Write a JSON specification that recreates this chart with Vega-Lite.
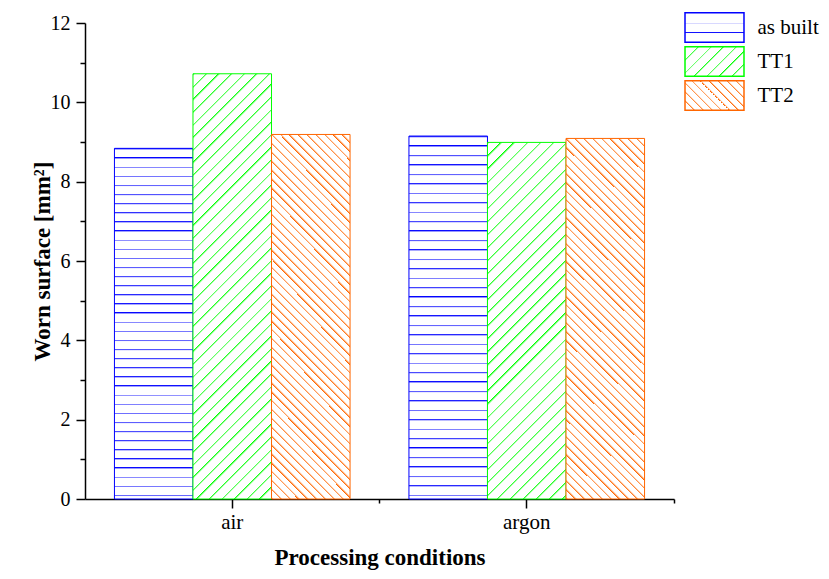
{
"$schema": "https://vega.github.io/schema/vega-lite/v6.json",
"width": 589, "height": 476,
"autosize": {"type": "none"},
"padding": {"left": 85, "top": 23, "right": 155, "bottom": 80},
"background": "white",
"config": {
  "view": {"stroke": null},
  "font": "Liberation Serif",
  "axis": {"labelFont": "Liberation Serif", "titleFont": "Liberation Serif", "labelColor": "#000", "titleColor": "#000", "tickColor": "#000", "domainColor": "#000", "tickWidth": 1.5, "domainWidth": 1.5, "labelFontSize": 20, "titleFontSize": 23, "titleFontWeight": "bold", "grid": false},
  "legend": {"labelFont": "Liberation Serif", "labelFontSize": 21, "labelColor": "#000", "orient": "none", "legendX": 614, "legendY": -11, "padding": 0, "labelOffset": 27.5, "rowPadding": -4, "symbolType": "M-2,-1H2V1H-2Z", "symbolSize": 870, "symbolStrokeWidth": 1.5, "symbolOpacity": 1}
},
"data": {"values": [
  {"condition": "air", "treatment": "as built", "value": 8.84},
  {"condition": "air", "treatment": "TT1", "value": 10.72},
  {"condition": "air", "treatment": "TT2", "value": 9.19},
  {"condition": "argon", "treatment": "as built", "value": 9.15},
  {"condition": "argon", "treatment": "TT1", "value": 8.99},
  {"condition": "argon", "treatment": "TT2", "value": 9.09}
]},
"encoding": {
  "x": {"field": "condition", "type": "nominal", "scale": {"domain": ["air", "argon"], "paddingInner": 0.2, "paddingOuter": 0.1}, "axis": null},
  "xOffset": {"field": "treatment", "type": "nominal", "scale": {"domain": ["as built", "TT1", "TT2"], "paddingInner": 0, "paddingOuter": 0}},
  "y": {"field": "value", "type": "quantitative", "scale": {"domain": [0, 12], "nice": false, "zero": true},
    "axis": {"values": [0,1,2,3,4,5,6,7,8,9,10,11,12], "labelExpr": "datum.value % 2 === 0 ? datum.label : ''", "tickSize": {"condition": {"test": "datum.value % 2 !== 0", "value": 5}, "value": 9}, "labelPadding": 6, "title": "Worn surface [mm²]", "titlePadding": -4}},
  "stroke": {"field": "treatment", "type": "nominal", "scale": {"domain": ["as built", "TT1", "TT2"], "range": ["#0000ff", "#00ff00", "#ff6600"]}, "legend": null}
},
"resolve": {"axis": {"x": "independent"}},
"layer": [
  {
    "transform": [{"filter": "false"}],
    "mark": {"type": "bar", "strokeWidth": 1.5},
    "encoding": {
      "fill": {"field": "treatment", "type": "nominal", "legend": {"title": null},
        "scale": {"domain": ["as built", "TT1", "TT2"], "range": [
          {"expr": "{id:'lBlue',gradient:'linear',x1:0,y1:0,x2:0,y2:1,stops:[{offset:0,color:'#fff'},{offset:0.333,color:'#fff'},{offset:0.333,color:'#00f'},{offset:0.37,color:'#fff'},{offset:0.667,color:'#fff'},{offset:0.667,color:'#00f'},{offset:0.704,color:'#fff'},{offset:1,color:'#fff'}]}"},
          {"expr": "{id:'lGreen',gradient:'linear',x1:0,y1:0,x2:1.2,y2:0.6,stops:[{offset:0,color:'#0f0'},{offset:0.024,color:'#fff'},{offset:0.143,color:'#fff'},{offset:0.143,color:'#0f0'},{offset:0.167,color:'#fff'},{offset:0.286,color:'#fff'},{offset:0.286,color:'#0f0'},{offset:0.31,color:'#fff'},{offset:0.429,color:'#fff'},{offset:0.429,color:'#0f0'},{offset:0.453,color:'#fff'},{offset:0.571,color:'#fff'},{offset:0.571,color:'#0f0'},{offset:0.595,color:'#fff'},{offset:0.714,color:'#fff'},{offset:0.714,color:'#0f0'},{offset:0.738,color:'#fff'},{offset:0.857,color:'#fff'},{offset:0.857,color:'#0f0'},{offset:0.881,color:'#fff'},{offset:1,color:'#fff'}]}"},
          {"expr": "{id:'lOrange',gradient:'linear',x1:0,y1:1,x2:1.2,y2:0.4,stops:[{offset:0,color:'#fff'},{offset:0.1,color:'#fff'},{offset:0.1,color:'#f60'},{offset:0.124,color:'#fff'},{offset:0.2,color:'#fff'},{offset:0.2,color:'#f60'},{offset:0.224,color:'#fff'},{offset:0.3,color:'#fff'},{offset:0.3,color:'#f60'},{offset:0.324,color:'#fff'},{offset:0.4,color:'#fff'},{offset:0.4,color:'#f60'},{offset:0.424,color:'#fff'},{offset:0.5,color:'#fff'},{offset:0.5,color:'#f60'},{offset:0.524,color:'#fff'},{offset:0.6,color:'#fff'},{offset:0.6,color:'#f60'},{offset:0.624,color:'#fff'},{offset:0.7,color:'#fff'},{offset:0.7,color:'#f60'},{offset:0.724,color:'#fff'},{offset:0.8,color:'#fff'},{offset:0.8,color:'#f60'},{offset:0.824,color:'#fff'},{offset:0.9,color:'#fff'},{offset:0.9,color:'#f60'},{offset:0.924,color:'#fff'},{offset:1,color:'#fff'}]}"}
        ]}},
      "stroke": {"field": "treatment", "type": "nominal", "scale": {"domain": ["as built", "TT1", "TT2"], "range": ["#0000ff", "#00ff00", "#ff6600"]}, "legend": {"title": null}}
    }
  },
  {
    "transform": [{"filter": "datum.treatment === 'as built'"}],
    "mark": {"type": "bar", "strokeWidth": 1, "fill": {"id": "hBlue", "gradient": "linear", "x1": 0, "y1": 0, "x2": 0, "y2": 1, "stops": [
{"offset":0,"color":"#00f"},{"offset":0.005,"color":"#fff"},{"offset":0.026,"color":"#fff"},
{"offset":0.026,"color":"#00f"},{"offset":0.031,"color":"#fff"},{"offset":0.052,"color":"#fff"},
{"offset":0.052,"color":"#00f"},{"offset":0.057,"color":"#fff"},{"offset":0.078,"color":"#fff"},
{"offset":0.078,"color":"#00f"},{"offset":0.083,"color":"#fff"},{"offset":0.104,"color":"#fff"},
{"offset":0.104,"color":"#00f"},{"offset":0.109,"color":"#fff"},{"offset":0.13,"color":"#fff"},
{"offset":0.13,"color":"#00f"},{"offset":0.135,"color":"#fff"},{"offset":0.156,"color":"#fff"},
{"offset":0.156,"color":"#00f"},{"offset":0.161,"color":"#fff"},{"offset":0.182,"color":"#fff"},
{"offset":0.182,"color":"#00f"},{"offset":0.187,"color":"#fff"},{"offset":0.208,"color":"#fff"},
{"offset":0.208,"color":"#00f"},{"offset":0.213,"color":"#fff"},{"offset":0.234,"color":"#fff"},
{"offset":0.234,"color":"#00f"},{"offset":0.239,"color":"#fff"},{"offset":0.26,"color":"#fff"},
{"offset":0.26,"color":"#00f"},{"offset":0.265,"color":"#fff"},{"offset":0.286,"color":"#fff"},
{"offset":0.286,"color":"#00f"},{"offset":0.291,"color":"#fff"},{"offset":0.312,"color":"#fff"},
{"offset":0.312,"color":"#00f"},{"offset":0.317,"color":"#fff"},{"offset":0.338,"color":"#fff"},
{"offset":0.338,"color":"#00f"},{"offset":0.343,"color":"#fff"},{"offset":0.364,"color":"#fff"},
{"offset":0.364,"color":"#00f"},{"offset":0.369,"color":"#fff"},{"offset":0.39,"color":"#fff"},
{"offset":0.39,"color":"#00f"},{"offset":0.395,"color":"#fff"},{"offset":0.416,"color":"#fff"},
{"offset":0.416,"color":"#00f"},{"offset":0.421,"color":"#fff"},{"offset":0.442,"color":"#fff"},
{"offset":0.442,"color":"#00f"},{"offset":0.447,"color":"#fff"},{"offset":0.468,"color":"#fff"},
{"offset":0.468,"color":"#00f"},{"offset":0.473,"color":"#fff"},{"offset":0.494,"color":"#fff"},
{"offset":0.494,"color":"#00f"},{"offset":0.499,"color":"#fff"},{"offset":0.52,"color":"#fff"},
{"offset":0.52,"color":"#00f"},{"offset":0.525,"color":"#fff"},{"offset":0.546,"color":"#fff"},
{"offset":0.546,"color":"#00f"},{"offset":0.551,"color":"#fff"},{"offset":0.572,"color":"#fff"},
{"offset":0.572,"color":"#00f"},{"offset":0.577,"color":"#fff"},{"offset":0.598,"color":"#fff"},
{"offset":0.598,"color":"#00f"},{"offset":0.603,"color":"#fff"},{"offset":0.624,"color":"#fff"},
{"offset":0.624,"color":"#00f"},{"offset":0.629,"color":"#fff"},{"offset":0.65,"color":"#fff"},
{"offset":0.65,"color":"#00f"},{"offset":0.655,"color":"#fff"},{"offset":0.676,"color":"#fff"},
{"offset":0.676,"color":"#00f"},{"offset":0.681,"color":"#fff"},{"offset":0.702,"color":"#fff"},
{"offset":0.702,"color":"#00f"},{"offset":0.707,"color":"#fff"},{"offset":0.728,"color":"#fff"},
{"offset":0.728,"color":"#00f"},{"offset":0.733,"color":"#fff"},{"offset":0.754,"color":"#fff"},
{"offset":0.754,"color":"#00f"},{"offset":0.759,"color":"#fff"},{"offset":0.78,"color":"#fff"},
{"offset":0.78,"color":"#00f"},{"offset":0.785,"color":"#fff"},{"offset":0.806,"color":"#fff"},
{"offset":0.806,"color":"#00f"},{"offset":0.811,"color":"#fff"},{"offset":0.832,"color":"#fff"},
{"offset":0.832,"color":"#00f"},{"offset":0.837,"color":"#fff"},{"offset":0.858,"color":"#fff"},
{"offset":0.858,"color":"#00f"},{"offset":0.863,"color":"#fff"},{"offset":0.884,"color":"#fff"},
{"offset":0.884,"color":"#00f"},{"offset":0.889,"color":"#fff"},{"offset":0.91,"color":"#fff"},
{"offset":0.91,"color":"#00f"},{"offset":0.915,"color":"#fff"},{"offset":0.936,"color":"#fff"},
{"offset":0.936,"color":"#00f"},{"offset":0.941,"color":"#fff"},{"offset":0.962,"color":"#fff"},
{"offset":0.962,"color":"#00f"},{"offset":0.967,"color":"#fff"},{"offset":0.988,"color":"#fff"},
{"offset":0.988,"color":"#00f"},{"offset":0.993,"color":"#fff"},{"offset":1,"color":"#fff"}
    ]}},
    "encoding": {
      "x": {"field": "condition", "type": "nominal", "scale": {"domain": ["air", "argon"], "paddingInner": 0.2, "paddingOuter": 0.1},
        "axis": {"orient": "bottom", "title": "Processing conditions", "labelAngle": 0, "labelFontSize": 21, "labelPadding": 3, "tickSize": 9, "titlePadding": 14}}
    }
  },
  {
    "transform": [{"filter": "datum.treatment === 'TT1' && datum.condition === 'air'"}],
    "mark": {"type": "bar", "strokeWidth": 1, "fill": {"id": "hGreenAir", "gradient": "linear", "x1": 0, "y1": 0, "x2": 0.2116, "y2": 1.1456, "stops": [
{"offset":0,"color":"#0f0"},{"offset":0.005,"color":"#fff"},{"offset":0.025,"color":"#fff"},
{"offset":0.025,"color":"#0f0"},{"offset":0.03,"color":"#fff"},{"offset":0.05,"color":"#fff"},
{"offset":0.05,"color":"#0f0"},{"offset":0.055,"color":"#fff"},{"offset":0.075,"color":"#fff"},
{"offset":0.075,"color":"#0f0"},{"offset":0.08,"color":"#fff"},{"offset":0.1,"color":"#fff"},
{"offset":0.1,"color":"#0f0"},{"offset":0.105,"color":"#fff"},{"offset":0.125,"color":"#fff"},
{"offset":0.125,"color":"#0f0"},{"offset":0.13,"color":"#fff"},{"offset":0.15,"color":"#fff"},
{"offset":0.15,"color":"#0f0"},{"offset":0.155,"color":"#fff"},{"offset":0.175,"color":"#fff"},
{"offset":0.175,"color":"#0f0"},{"offset":0.18,"color":"#fff"},{"offset":0.2,"color":"#fff"},
{"offset":0.2,"color":"#0f0"},{"offset":0.205,"color":"#fff"},{"offset":0.225,"color":"#fff"},
{"offset":0.225,"color":"#0f0"},{"offset":0.23,"color":"#fff"},{"offset":0.25,"color":"#fff"},
{"offset":0.25,"color":"#0f0"},{"offset":0.255,"color":"#fff"},{"offset":0.275,"color":"#fff"},
{"offset":0.275,"color":"#0f0"},{"offset":0.28,"color":"#fff"},{"offset":0.3,"color":"#fff"},
{"offset":0.3,"color":"#0f0"},{"offset":0.305,"color":"#fff"},{"offset":0.325,"color":"#fff"},
{"offset":0.325,"color":"#0f0"},{"offset":0.33,"color":"#fff"},{"offset":0.35,"color":"#fff"},
{"offset":0.35,"color":"#0f0"},{"offset":0.355,"color":"#fff"},{"offset":0.375,"color":"#fff"},
{"offset":0.375,"color":"#0f0"},{"offset":0.38,"color":"#fff"},{"offset":0.4,"color":"#fff"},
{"offset":0.4,"color":"#0f0"},{"offset":0.405,"color":"#fff"},{"offset":0.425,"color":"#fff"},
{"offset":0.425,"color":"#0f0"},{"offset":0.43,"color":"#fff"},{"offset":0.45,"color":"#fff"},
{"offset":0.45,"color":"#0f0"},{"offset":0.455,"color":"#fff"},{"offset":0.475,"color":"#fff"},
{"offset":0.475,"color":"#0f0"},{"offset":0.48,"color":"#fff"},{"offset":0.5,"color":"#fff"},
{"offset":0.5,"color":"#0f0"},{"offset":0.505,"color":"#fff"},{"offset":0.525,"color":"#fff"},
{"offset":0.525,"color":"#0f0"},{"offset":0.53,"color":"#fff"},{"offset":0.55,"color":"#fff"},
{"offset":0.55,"color":"#0f0"},{"offset":0.555,"color":"#fff"},{"offset":0.575,"color":"#fff"},
{"offset":0.575,"color":"#0f0"},{"offset":0.58,"color":"#fff"},{"offset":0.6,"color":"#fff"},
{"offset":0.6,"color":"#0f0"},{"offset":0.605,"color":"#fff"},{"offset":0.625,"color":"#fff"},
{"offset":0.625,"color":"#0f0"},{"offset":0.63,"color":"#fff"},{"offset":0.65,"color":"#fff"},
{"offset":0.65,"color":"#0f0"},{"offset":0.655,"color":"#fff"},{"offset":0.675,"color":"#fff"},
{"offset":0.675,"color":"#0f0"},{"offset":0.68,"color":"#fff"},{"offset":0.7,"color":"#fff"},
{"offset":0.7,"color":"#0f0"},{"offset":0.705,"color":"#fff"},{"offset":0.725,"color":"#fff"},
{"offset":0.725,"color":"#0f0"},{"offset":0.73,"color":"#fff"},{"offset":0.75,"color":"#fff"},
{"offset":0.75,"color":"#0f0"},{"offset":0.755,"color":"#fff"},{"offset":0.775,"color":"#fff"},
{"offset":0.775,"color":"#0f0"},{"offset":0.78,"color":"#fff"},{"offset":0.8,"color":"#fff"},
{"offset":0.8,"color":"#0f0"},{"offset":0.805,"color":"#fff"},{"offset":0.825,"color":"#fff"},
{"offset":0.825,"color":"#0f0"},{"offset":0.83,"color":"#fff"},{"offset":0.85,"color":"#fff"},
{"offset":0.85,"color":"#0f0"},{"offset":0.855,"color":"#fff"},{"offset":0.875,"color":"#fff"},
{"offset":0.875,"color":"#0f0"},{"offset":0.88,"color":"#fff"},{"offset":0.9,"color":"#fff"},
{"offset":0.9,"color":"#0f0"},{"offset":0.905,"color":"#fff"},{"offset":0.925,"color":"#fff"},
{"offset":0.925,"color":"#0f0"},{"offset":0.93,"color":"#fff"},{"offset":0.95,"color":"#fff"},
{"offset":0.95,"color":"#0f0"},{"offset":0.955,"color":"#fff"},{"offset":0.975,"color":"#fff"},
{"offset":0.975,"color":"#0f0"},{"offset":0.98,"color":"#fff"},{"offset":1,"color":"#fff"}
    ]}}
  },
  {
    "transform": [{"filter": "datum.treatment === 'TT1' && datum.condition === 'argon'"}],
    "mark": {"type": "bar", "strokeWidth": 1, "fill": {"id": "hGreenArgon", "gradient": "linear", "x1": 0, "y1": 0, "x2": 0.2563, "y2": 1.1638, "stops": [
{"offset":0,"color":"#0f0"},{"offset":0.006,"color":"#fff"},{"offset":0.03,"color":"#fff"},
{"offset":0.03,"color":"#0f0"},{"offset":0.036,"color":"#fff"},{"offset":0.06,"color":"#fff"},
{"offset":0.06,"color":"#0f0"},{"offset":0.066,"color":"#fff"},{"offset":0.09,"color":"#fff"},
{"offset":0.09,"color":"#0f0"},{"offset":0.096,"color":"#fff"},{"offset":0.12,"color":"#fff"},
{"offset":0.12,"color":"#0f0"},{"offset":0.126,"color":"#fff"},{"offset":0.15,"color":"#fff"},
{"offset":0.15,"color":"#0f0"},{"offset":0.156,"color":"#fff"},{"offset":0.18,"color":"#fff"},
{"offset":0.18,"color":"#0f0"},{"offset":0.186,"color":"#fff"},{"offset":0.21,"color":"#fff"},
{"offset":0.21,"color":"#0f0"},{"offset":0.216,"color":"#fff"},{"offset":0.24,"color":"#fff"},
{"offset":0.24,"color":"#0f0"},{"offset":0.246,"color":"#fff"},{"offset":0.27,"color":"#fff"},
{"offset":0.27,"color":"#0f0"},{"offset":0.276,"color":"#fff"},{"offset":0.3,"color":"#fff"},
{"offset":0.3,"color":"#0f0"},{"offset":0.306,"color":"#fff"},{"offset":0.33,"color":"#fff"},
{"offset":0.33,"color":"#0f0"},{"offset":0.336,"color":"#fff"},{"offset":0.36,"color":"#fff"},
{"offset":0.36,"color":"#0f0"},{"offset":0.366,"color":"#fff"},{"offset":0.39,"color":"#fff"},
{"offset":0.39,"color":"#0f0"},{"offset":0.396,"color":"#fff"},{"offset":0.42,"color":"#fff"},
{"offset":0.42,"color":"#0f0"},{"offset":0.426,"color":"#fff"},{"offset":0.45,"color":"#fff"},
{"offset":0.45,"color":"#0f0"},{"offset":0.456,"color":"#fff"},{"offset":0.48,"color":"#fff"},
{"offset":0.48,"color":"#0f0"},{"offset":0.486,"color":"#fff"},{"offset":0.51,"color":"#fff"},
{"offset":0.51,"color":"#0f0"},{"offset":0.516,"color":"#fff"},{"offset":0.54,"color":"#fff"},
{"offset":0.54,"color":"#0f0"},{"offset":0.546,"color":"#fff"},{"offset":0.57,"color":"#fff"},
{"offset":0.57,"color":"#0f0"},{"offset":0.576,"color":"#fff"},{"offset":0.6,"color":"#fff"},
{"offset":0.6,"color":"#0f0"},{"offset":0.606,"color":"#fff"},{"offset":0.63,"color":"#fff"},
{"offset":0.63,"color":"#0f0"},{"offset":0.636,"color":"#fff"},{"offset":0.66,"color":"#fff"},
{"offset":0.66,"color":"#0f0"},{"offset":0.666,"color":"#fff"},{"offset":0.69,"color":"#fff"},
{"offset":0.69,"color":"#0f0"},{"offset":0.696,"color":"#fff"},{"offset":0.72,"color":"#fff"},
{"offset":0.72,"color":"#0f0"},{"offset":0.726,"color":"#fff"},{"offset":0.75,"color":"#fff"},
{"offset":0.75,"color":"#0f0"},{"offset":0.756,"color":"#fff"},{"offset":0.78,"color":"#fff"},
{"offset":0.78,"color":"#0f0"},{"offset":0.786,"color":"#fff"},{"offset":0.81,"color":"#fff"},
{"offset":0.81,"color":"#0f0"},{"offset":0.816,"color":"#fff"},{"offset":0.84,"color":"#fff"},
{"offset":0.84,"color":"#0f0"},{"offset":0.846,"color":"#fff"},{"offset":0.87,"color":"#fff"},
{"offset":0.87,"color":"#0f0"},{"offset":0.876,"color":"#fff"},{"offset":0.9,"color":"#fff"},
{"offset":0.9,"color":"#0f0"},{"offset":0.906,"color":"#fff"},{"offset":0.93,"color":"#fff"},
{"offset":0.93,"color":"#0f0"},{"offset":0.936,"color":"#fff"},{"offset":0.96,"color":"#fff"},
{"offset":0.96,"color":"#0f0"},{"offset":0.966,"color":"#fff"},{"offset":0.99,"color":"#fff"},
{"offset":0.99,"color":"#0f0"},{"offset":0.996,"color":"#fff"},{"offset":1,"color":"#fff"}
    ]}}
  },
  {
    "transform": [{"filter": "datum.treatment === 'TT2'"}],
    "mark": {"type": "bar", "strokeWidth": 1, "fill": {"id": "hOrange", "gradient": "linear", "x1": 0, "y1": 1, "x2": 0.2517, "y2": -0.1621, "stops": [
{"offset":0,"color":"#f60"},{"offset":0.006,"color":"#fff"},{"offset":0.02,"color":"#fff"},
{"offset":0.02,"color":"#f60"},{"offset":0.026,"color":"#fff"},{"offset":0.04,"color":"#fff"},
{"offset":0.04,"color":"#f60"},{"offset":0.046,"color":"#fff"},{"offset":0.06,"color":"#fff"},
{"offset":0.06,"color":"#f60"},{"offset":0.066,"color":"#fff"},{"offset":0.08,"color":"#fff"},
{"offset":0.08,"color":"#f60"},{"offset":0.086,"color":"#fff"},{"offset":0.1,"color":"#fff"},
{"offset":0.1,"color":"#f60"},{"offset":0.106,"color":"#fff"},{"offset":0.12,"color":"#fff"},
{"offset":0.12,"color":"#f60"},{"offset":0.126,"color":"#fff"},{"offset":0.14,"color":"#fff"},
{"offset":0.14,"color":"#f60"},{"offset":0.146,"color":"#fff"},{"offset":0.16,"color":"#fff"},
{"offset":0.16,"color":"#f60"},{"offset":0.166,"color":"#fff"},{"offset":0.18,"color":"#fff"},
{"offset":0.18,"color":"#f60"},{"offset":0.186,"color":"#fff"},{"offset":0.2,"color":"#fff"},
{"offset":0.2,"color":"#f60"},{"offset":0.206,"color":"#fff"},{"offset":0.22,"color":"#fff"},
{"offset":0.22,"color":"#f60"},{"offset":0.226,"color":"#fff"},{"offset":0.24,"color":"#fff"},
{"offset":0.24,"color":"#f60"},{"offset":0.246,"color":"#fff"},{"offset":0.26,"color":"#fff"},
{"offset":0.26,"color":"#f60"},{"offset":0.266,"color":"#fff"},{"offset":0.28,"color":"#fff"},
{"offset":0.28,"color":"#f60"},{"offset":0.286,"color":"#fff"},{"offset":0.3,"color":"#fff"},
{"offset":0.3,"color":"#f60"},{"offset":0.306,"color":"#fff"},{"offset":0.32,"color":"#fff"},
{"offset":0.32,"color":"#f60"},{"offset":0.326,"color":"#fff"},{"offset":0.34,"color":"#fff"},
{"offset":0.34,"color":"#f60"},{"offset":0.346,"color":"#fff"},{"offset":0.36,"color":"#fff"},
{"offset":0.36,"color":"#f60"},{"offset":0.366,"color":"#fff"},{"offset":0.38,"color":"#fff"},
{"offset":0.38,"color":"#f60"},{"offset":0.386,"color":"#fff"},{"offset":0.4,"color":"#fff"},
{"offset":0.4,"color":"#f60"},{"offset":0.406,"color":"#fff"},{"offset":0.42,"color":"#fff"},
{"offset":0.42,"color":"#f60"},{"offset":0.426,"color":"#fff"},{"offset":0.44,"color":"#fff"},
{"offset":0.44,"color":"#f60"},{"offset":0.446,"color":"#fff"},{"offset":0.46,"color":"#fff"},
{"offset":0.46,"color":"#f60"},{"offset":0.466,"color":"#fff"},{"offset":0.48,"color":"#fff"},
{"offset":0.48,"color":"#f60"},{"offset":0.486,"color":"#fff"},{"offset":0.5,"color":"#fff"},
{"offset":0.5,"color":"#f60"},{"offset":0.506,"color":"#fff"},{"offset":0.52,"color":"#fff"},
{"offset":0.52,"color":"#f60"},{"offset":0.526,"color":"#fff"},{"offset":0.54,"color":"#fff"},
{"offset":0.54,"color":"#f60"},{"offset":0.546,"color":"#fff"},{"offset":0.56,"color":"#fff"},
{"offset":0.56,"color":"#f60"},{"offset":0.566,"color":"#fff"},{"offset":0.58,"color":"#fff"},
{"offset":0.58,"color":"#f60"},{"offset":0.586,"color":"#fff"},{"offset":0.6,"color":"#fff"},
{"offset":0.6,"color":"#f60"},{"offset":0.606,"color":"#fff"},{"offset":0.62,"color":"#fff"},
{"offset":0.62,"color":"#f60"},{"offset":0.626,"color":"#fff"},{"offset":0.64,"color":"#fff"},
{"offset":0.64,"color":"#f60"},{"offset":0.646,"color":"#fff"},{"offset":0.66,"color":"#fff"},
{"offset":0.66,"color":"#f60"},{"offset":0.666,"color":"#fff"},{"offset":0.68,"color":"#fff"},
{"offset":0.68,"color":"#f60"},{"offset":0.686,"color":"#fff"},{"offset":0.7,"color":"#fff"},
{"offset":0.7,"color":"#f60"},{"offset":0.706,"color":"#fff"},{"offset":0.72,"color":"#fff"},
{"offset":0.72,"color":"#f60"},{"offset":0.726,"color":"#fff"},{"offset":0.74,"color":"#fff"},
{"offset":0.74,"color":"#f60"},{"offset":0.746,"color":"#fff"},{"offset":0.76,"color":"#fff"},
{"offset":0.76,"color":"#f60"},{"offset":0.766,"color":"#fff"},{"offset":0.78,"color":"#fff"},
{"offset":0.78,"color":"#f60"},{"offset":0.786,"color":"#fff"},{"offset":0.8,"color":"#fff"},
{"offset":0.8,"color":"#f60"},{"offset":0.806,"color":"#fff"},{"offset":0.82,"color":"#fff"},
{"offset":0.82,"color":"#f60"},{"offset":0.826,"color":"#fff"},{"offset":0.84,"color":"#fff"},
{"offset":0.84,"color":"#f60"},{"offset":0.846,"color":"#fff"},{"offset":0.86,"color":"#fff"},
{"offset":0.86,"color":"#f60"},{"offset":0.866,"color":"#fff"},{"offset":0.88,"color":"#fff"},
{"offset":0.88,"color":"#f60"},{"offset":0.886,"color":"#fff"},{"offset":0.9,"color":"#fff"},
{"offset":0.9,"color":"#f60"},{"offset":0.906,"color":"#fff"},{"offset":0.92,"color":"#fff"},
{"offset":0.92,"color":"#f60"},{"offset":0.926,"color":"#fff"},{"offset":0.94,"color":"#fff"},
{"offset":0.94,"color":"#f60"},{"offset":0.946,"color":"#fff"},{"offset":0.96,"color":"#fff"},
{"offset":0.96,"color":"#f60"},{"offset":0.966,"color":"#fff"},{"offset":0.98,"color":"#fff"},
{"offset":0.98,"color":"#f60"},{"offset":0.986,"color":"#fff"},{"offset":1,"color":"#fff"}
    ]}},
    "encoding": {
      "x": {"field": "condition", "type": "nominal", "scale": {"domain": ["air", "argon"], "paddingInner": 0.2, "paddingOuter": 0.1},
        "axis": {"orient": "bottom", "title": null, "labels": false, "domain": false, "tickSize": 4, "bandPosition": 1.125}}
    }
  }
]
}
